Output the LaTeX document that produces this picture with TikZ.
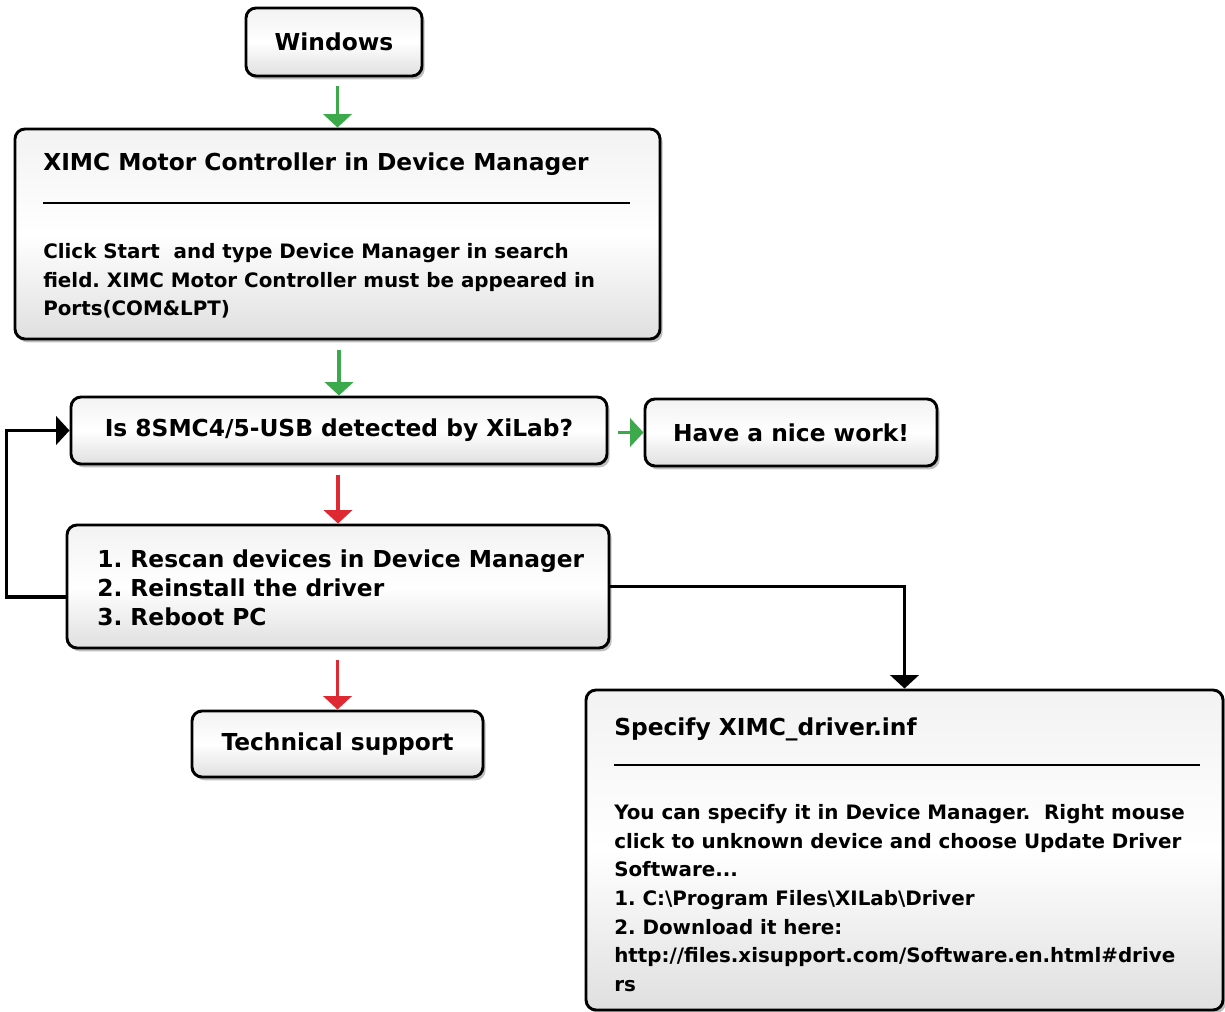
\documentclass[tikz,border=0pt]{standalone}
\usepackage{fontspec}
\setmainfont{DejaVu Sans}
\frenchspacing
\usetikzlibrary{arrows.meta,shadows,positioning}
\definecolor{okgreen}{RGB}{60,170,75}
\definecolor{failred}{RGB}{222,40,50}
\tikzset{
  box/.style={draw=black, line width=2.2pt, rounded corners=7.5pt,
    top color=gray!10, bottom color=gray!25, middle color=white,
    drop shadow={shadow xshift=2pt, shadow yshift=-2.5pt, opacity=0.5},
    inner sep=0pt},
  headtext/.style={font=\fontsize{17.5}{21.5}\selectfont\bfseries, inner sep=0pt},
  bodytext/.style={font=\fontsize{14.9}{21.5}\selectfont\bfseries, inner sep=0pt, align=left},
  rule/.style={line width=1.5pt},
  goarrow/.style={okgreen, line width=2.3pt, -{Triangle[length=10pt,width=21pt]}},
  failarrow/.style={failred, line width=2.3pt, -{Triangle[length=10pt,width=21pt]}},
  looparrow/.style={black, line width=2.8pt, -{Triangle[length=10pt,width=21pt]}}
}
\begin{document}
\begin{tikzpicture}[x=0.75pt, y=-0.75pt, line join=miter]
  \useasboundingbox (0,0) rectangle (1225,1012);
  \node[box, minimum width=132pt, minimum height=51pt, headtext] (win) at (334,42) {Windows};
  \node[box, minimum width=483.75pt, minimum height=157.5pt] (ximc) at (337.5,234) {};
  \node[headtext, anchor=base west] (ximctitle) at (43,171) {XIMC Motor Controller in Device Manager};
  \draw[rule] (43,203) -- (630,203);
  \node[bodytext, anchor=north west] (ximcbody) at (43,243) {Click Start~ and type Device Manager in search\\field. XIMC Motor Controller must be appeared in\\Ports(COM\&LPT)};
  \node[box, minimum width=402pt, minimum height=50.25pt, headtext] (detect) at (339,430.5) {Is 8SMC4/5-USB detected by XiLab?};
  \node[box, minimum width=219pt, minimum height=50.25pt, headtext] (nice) at (791,432.5) {Have a nice work!};
  \node[box, minimum width=406.5pt, minimum height=92.25pt] (rescan) at (338,586.5) {};
  \node[headtext, align=left, anchor=north west] (rescanlist) at (97,550) {1. Rescan devices in Device Manager\\2. Reinstall the driver\\3. Reboot PC};
  \node[box, minimum width=218.25pt, minimum height=49.5pt, headtext] (tech) at (337.5,744) {Technical support};
  \node[box, minimum width=477.75pt, minimum height=240pt] (spec) at (904.5,850) {};
  \node[headtext, anchor=base west] (spectitle) at (614,735) {Specify XIMC\_driver.inf};
  \draw[rule] (614,765) -- (1200,765);
  \node[bodytext, anchor=north west] (specbody) at (614,804) {You can specify it in Device Manager.~ Right mouse\\click to unknown device and choose Update Driver\\Software...\\1. C:\textbackslash Program Files\textbackslash XILab\textbackslash Driver\\2. Download it here:\\http://files.xisupport.com/Software.en.html\#drive\\rs};
  \draw[goarrow] (ximc.north |- win.south) ++(0,9) -- (ximc.north);
  \draw[goarrow] (detect.north |- ximc.south) ++(0,10) -- (detect.north);
  \draw[goarrow] (detect.east |- nice.west) ++(10,0) -- (nice.west);
  \draw[failarrow] (rescan.north |- detect.south) ++(0,10) -- (rescan.north);
  \draw[failarrow] (tech.north |- rescan.south) ++(0,11) -- (tech.north);
  \draw[looparrow] ([yshift=-8pt]rescan.west) -- ++(-59,0) |- (detect.west);
  \draw[looparrow] (rescan.east) -| (spec.north);
\end{tikzpicture}
\end{document}
